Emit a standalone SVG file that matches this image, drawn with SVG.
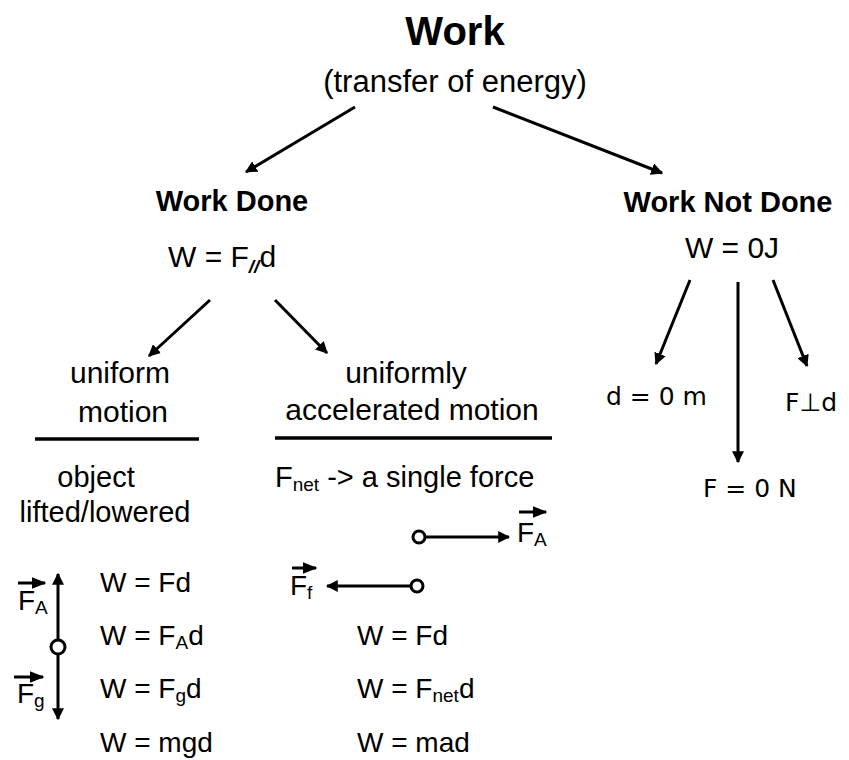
<svg xmlns="http://www.w3.org/2000/svg" width="849" height="760" viewBox="0 0 849 760">
  <defs>
    <style>
      text { font-family: "Liberation Sans", Arial, sans-serif; fill: #000; }
      .title { font-size: 40px; font-weight: bold; }
      .head { font-size: 29px; font-weight: bold; }
      .t31 { font-size: 31px; }
      .t30 { font-size: 30px; }
      .t28 { font-size: 28px; }
      .t29 { font-size: 29px; }
      .dv { font-family: "DejaVu Sans", sans-serif; font-size: 25px; }
      .sub { font-size: 19px; }
      .conn { stroke: #000; stroke-width: 3; fill: none; }
      .rule { stroke: #000; stroke-width: 3.5; }
      .pt { fill: #fff; stroke: #000; stroke-width: 3; }
    </style>
    <marker id="ah" viewBox="0 0 10 10" refX="9" refY="5" markerWidth="4" markerHeight="4" orient="auto-start-reverse">
      <path d="M0,0 L10,5 L0,10 z" fill="#000"/>
    </marker>
    <marker id="vh" viewBox="0 0 10 10" refX="9" refY="5" markerWidth="5" markerHeight="5" orient="auto">
      <path d="M0,1 L10,5 L0,9 z" fill="#000"/>
    </marker>
  </defs>

  <g id="connectors">
    <line class="conn" x1="355" y1="107" x2="246" y2="172" marker-end="url(#ah)"/>
    <line class="conn" x1="493" y1="107" x2="662" y2="173" marker-end="url(#ah)"/>
    <line class="conn" x1="210" y1="300" x2="149" y2="356" marker-end="url(#ah)"/>
    <line class="conn" x1="275" y1="300" x2="327" y2="353" marker-end="url(#ah)"/>
    <line class="conn" x1="690" y1="280" x2="656" y2="364" marker-end="url(#ah)"/>
    <line class="conn" x1="738" y1="282" x2="738" y2="462" marker-end="url(#ah)"/>
    <line class="conn" x1="773" y1="280" x2="807" y2="366" marker-end="url(#ah)"/>
  </g>

  <g id="work">
    <text class="title" x="455" y="45" text-anchor="middle">Work</text>
    <text class="t31" x="455" y="92" text-anchor="middle">(transfer of energy)</text>
  </g>

  <g id="work-done">
    <text class="head" x="232" y="211" text-anchor="middle">Work Done</text>
    <text class="t30" x="168" y="267">W = F<tspan class="sub" dy="6" font-weight="bold" font-style="italic">//</tspan><tspan dy="-6">d</tspan></text>
  </g>

  <g id="work-not-done">
    <text class="head" x="728" y="212" text-anchor="middle">Work Not Done</text>
    <text class="t30" x="732" y="258" text-anchor="middle">W = 0J</text>
  </g>

  <g id="zero-d">
    <text class="dv" x="606" y="405">d = 0 m</text>
  </g>
  <g id="perp">
    <text class="dv" x="785" y="411">F⊥d</text>
  </g>
  <g id="zero-f">
    <text class="dv" x="703" y="497">F = 0 N</text>
  </g>

  <g id="uniform-motion">
    <text class="t30" x="120" y="383" text-anchor="middle">uniform</text>
    <text class="t30" x="123" y="422" text-anchor="middle">motion</text>
    <line class="rule" x1="35" y1="439" x2="199" y2="439"/>
    <text class="t29" x="96" y="487" text-anchor="middle">object</text>
    <text class="t29" x="105" y="522" text-anchor="middle">lifted/lowered</text>
    <!-- vertical force diagram -->
    <line class="conn" x1="58" y1="647" x2="58" y2="574" marker-end="url(#ah)"/>
    <line class="conn" x1="58" y1="647" x2="58" y2="719" marker-end="url(#ah)"/>
    <circle class="pt" cx="58" cy="647" r="7"/>
    <text class="t28" x="18" y="610">F<tspan class="sub" dy="4">A</tspan></text>
    <line class="conn" x1="18" y1="583" x2="45" y2="583" marker-end="url(#vh)"/>
    <text class="t28" x="17" y="703">F<tspan class="sub" dy="4">g</tspan></text>
    <line class="conn" x1="14" y1="677" x2="43" y2="677" marker-end="url(#vh)"/>
    <text class="t28" x="100" y="592">W = Fd</text>
    <text class="t28" x="100" y="645">W = F<tspan class="sub" dy="4">A</tspan><tspan dy="-4">d</tspan></text>
    <text class="t28" x="100" y="698">W = F<tspan class="sub" dy="4">g</tspan><tspan dy="-4">d</tspan></text>
    <text class="t28" x="100" y="752">W = mgd</text>
  </g>

  <g id="accelerated-motion">
    <text class="t30" x="406" y="383" text-anchor="middle">uniformly</text>
    <text class="t30" x="412" y="420" text-anchor="middle">accelerated motion</text>
    <line class="rule" x1="275" y1="438" x2="552" y2="438"/>
    <text class="t29" x="275" y="487">F<tspan class="sub" dy="4">net</tspan><tspan dy="-4"> -&gt; a single force</tspan></text>
    <!-- horizontal force diagram -->
    <line class="conn" x1="419" y1="537" x2="509" y2="537" marker-end="url(#ah)"/>
    <circle class="pt" cx="419" cy="537" r="6"/>
    <text class="t28" x="517" y="542">F<tspan class="sub" dy="4">A</tspan></text>
    <line class="conn" x1="519" y1="512" x2="546" y2="512" marker-end="url(#vh)"/>
    <line class="conn" x1="417" y1="586" x2="327" y2="586" marker-end="url(#ah)"/>
    <circle class="pt" cx="417" cy="586" r="6"/>
    <text class="t28" x="290" y="595">F<tspan class="sub" dy="4">f</tspan></text>
    <line class="conn" x1="292" y1="568" x2="316" y2="568" marker-end="url(#vh)"/>
    <text class="t28" x="357" y="645">W = Fd</text>
    <text class="t28" x="357" y="698">W = F<tspan class="sub" dy="4">net</tspan><tspan dy="-4">d</tspan></text>
    <text class="t28" x="357" y="752">W = mad</text>
  </g>
</svg>
